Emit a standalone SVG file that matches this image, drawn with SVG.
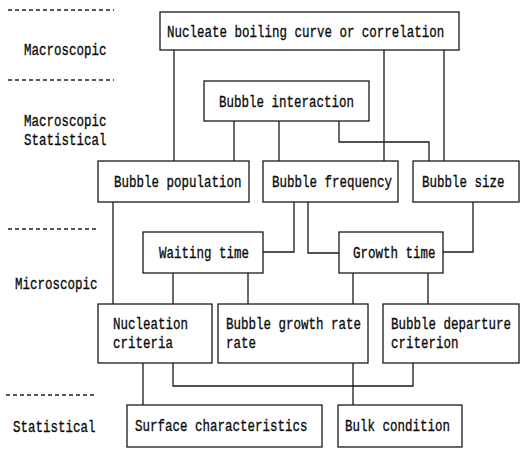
<svg xmlns="http://www.w3.org/2000/svg" width="521" height="450" viewBox="0 0 521 450">
  <style>
    .box { fill: #ffffff; stroke: #1a1a1a; stroke-width: 1.3; }
    .lbl { font-family: "Liberation Mono", "DejaVu Sans Mono", monospace; font-size: 12.5px; fill: #0a0a0a; stroke: #0a0a0a; stroke-width: 0.25; }
    .level { stroke: #222222; stroke-width: 1.4; stroke-dasharray: 4 3; fill: none; }
    .wire { stroke: #1a1a1a; stroke-width: 1.3; fill: none; }
  </style>
  <rect width="521" height="450" fill="#ffffff"/>

  <!-- level separators and level names (text stretched vertically: narrow tall mono face) -->
  <g id="levels">
    <line class="level" x1="8" y1="10" x2="114" y2="10"/>
    <line class="level" x1="8" y1="80" x2="114" y2="80"/>
    <line class="level" x1="8" y1="229" x2="98" y2="229"/>
    <line class="level" x1="6" y1="395" x2="97" y2="395"/>
    <text class="lbl" transform="translate(24,55) scale(1,1.3)">Macroscopic</text>
    <text class="lbl" transform="translate(24,126) scale(1,1.3)">Macroscopic</text>
    <text class="lbl" transform="translate(24,145) scale(1,1.3)">Statistical</text>
    <text class="lbl" transform="translate(15,289) scale(1,1.3)">Microscopic</text>
    <text class="lbl" transform="translate(13,432) scale(1,1.3)">Statistical</text>
  </g>

  <!-- connectors -->
  <g id="connectors">
    <line class="wire" x1="174" y1="50" x2="174" y2="161"/>
    <line class="wire" x1="384" y1="50" x2="384" y2="161"/>
    <line class="wire" x1="444" y1="50" x2="444" y2="161"/>
    <line class="wire" x1="234" y1="121" x2="234" y2="161"/>
    <line class="wire" x1="279" y1="121" x2="279" y2="161"/>
    <polyline class="wire" points="339,121 339,142 429,142 429,161"/>
    <line class="wire" x1="113" y1="202" x2="113" y2="304"/>
    <polyline class="wire" points="294,202 294,252 263,252"/>
    <polyline class="wire" points="308,202 308,253 339,253"/>
    <polyline class="wire" points="473,202 473,252 443,252"/>
    <line class="wire" x1="173" y1="273" x2="173" y2="304"/>
    <line class="wire" x1="248" y1="273" x2="248" y2="304"/>
    <line class="wire" x1="353" y1="273" x2="353" y2="304"/>
    <line class="wire" x1="428" y1="273" x2="428" y2="304"/>
    <line class="wire" x1="143" y1="363" x2="143" y2="405"/>
    <polyline class="wire" points="173,363 173,386 413,386 413,363"/>
    <line class="wire" x1="353" y1="363" x2="353" y2="405"/>
  </g>

  <g id="nucleate-boiling">
    <rect class="box" x="160" y="12" width="299" height="38"/>
    <text class="lbl" transform="translate(167,37) scale(1,1.3)">Nucleate boiling curve or correlation</text>
  </g>
  <g id="bubble-interaction">
    <rect class="box" x="204" y="81" width="165" height="40"/>
    <text class="lbl" transform="translate(219,107) scale(1,1.3)">Bubble interaction</text>
  </g>
  <g id="bubble-population">
    <rect class="box" x="98" y="161" width="151" height="41"/>
    <text class="lbl" transform="translate(114,187) scale(1,1.3)">Bubble population</text>
  </g>
  <g id="bubble-frequency">
    <rect class="box" x="263" y="161" width="135" height="41"/>
    <text class="lbl" transform="translate(272,187) scale(1,1.3)">Bubble frequency</text>
  </g>
  <g id="bubble-size">
    <rect class="box" x="413" y="161" width="106" height="41"/>
    <text class="lbl" transform="translate(422,187) scale(1,1.3)">Bubble size</text>
  </g>
  <g id="waiting-time">
    <rect class="box" x="143" y="232" width="120" height="41"/>
    <text class="lbl" transform="translate(159,258) scale(1,1.3)">Waiting time</text>
  </g>
  <g id="growth-time">
    <rect class="box" x="339" y="232" width="104" height="41"/>
    <text class="lbl" transform="translate(353,258) scale(1,1.3)">Growth time</text>
  </g>
  <g id="nucleation-criteria">
    <rect class="box" x="98" y="304" width="114" height="59"/>
    <text class="lbl" transform="translate(113,329) scale(1,1.3)">Nucleation</text>
    <text class="lbl" transform="translate(113,348) scale(1,1.3)">criteria</text>
  </g>
  <g id="bubble-growth-rate">
    <rect class="box" x="218" y="304" width="150" height="59"/>
    <text class="lbl" transform="translate(226,329) scale(1,1.3)">Bubble growth rate</text>
    <text class="lbl" transform="translate(226,348) scale(1,1.3)">rate</text>
  </g>
  <g id="bubble-departure">
    <rect class="box" x="383" y="304" width="136" height="59"/>
    <text class="lbl" transform="translate(391,329) scale(1,1.3)">Bubble departure</text>
    <text class="lbl" transform="translate(391,348) scale(1,1.3)">criterion</text>
  </g>
  <g id="surface-characteristics">
    <rect class="box" x="127" y="405" width="195" height="42"/>
    <text class="lbl" transform="translate(135,431) scale(1,1.3)">Surface characteristics</text>
  </g>
  <g id="bulk-condition">
    <rect class="box" x="338" y="405" width="124" height="42"/>
    <text class="lbl" transform="translate(345,431) scale(1,1.3)">Bulk condition</text>
  </g>
</svg>
